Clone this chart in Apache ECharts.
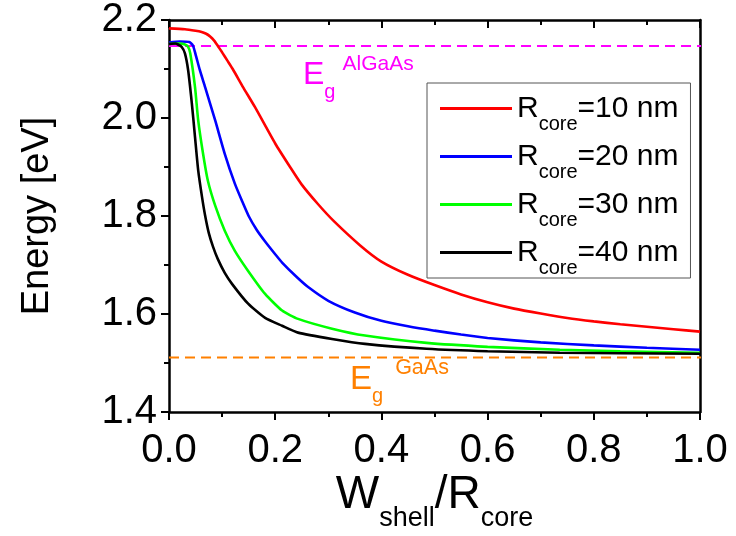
<!DOCTYPE html>
<html>
<head>
<meta charset="utf-8">
<script src="https://cdn.jsdelivr.net/npm/echarts@6/dist/echarts.min.js"></script>
<style>
  html, body { margin: 0; padding: 0; background: #fff; }
  #chart { width: 736px; height: 536px; }
</style>
</head>
<body>
<div id="chart"></div>
<script>
// Shell width relative to core radius, and the ground-state transition energy (eV)
const wR10 = [0, 0.03, 0.05, 0.06, 0.07, 0.078, 0.085, 0.092, 0.1, 0.11, 0.12, 0.14, 0.162, 0.2, 0.228, 0.25, 0.28, 0.31, 0.36, 0.4, 0.45, 0.5, 0.55, 0.6, 0.65, 0.7, 0.75, 0.8, 0.85, 0.9, 0.95, 1.0];
const eR10 = [2.183, 2.181, 2.178, 2.176, 2.172, 2.166, 2.158, 2.147, 2.134, 2.117, 2.100, 2.062, 2.022, 1.948, 1.900, 1.864, 1.825, 1.790, 1.740, 1.707, 1.680, 1.659, 1.640, 1.624, 1.611, 1.601, 1.592, 1.585, 1.579, 1.574, 1.569, 1.564];

const wR20 = [0, 0.02, 0.038, 0.045, 0.05, 0.058, 0.068, 0.087, 0.105, 0.124, 0.137, 0.15, 0.165, 0.181, 0.2, 0.213, 0.24, 0.262, 0.3, 0.35, 0.4, 0.45, 0.5, 0.55, 0.6, 0.7, 0.8, 0.9, 1.0];
const eR20 = [2.154, 2.156, 2.155, 2.148, 2.130, 2.098, 2.063, 1.995, 1.927, 1.866, 1.832, 1.800, 1.772, 1.748, 1.722, 1.705, 1.676, 1.655, 1.627, 1.603, 1.586, 1.575, 1.566, 1.558, 1.551, 1.542, 1.536, 1.531, 1.527];

const wR30 = [0, 0.02, 0.03, 0.036, 0.040, 0.049, 0.055, 0.064, 0.073, 0.087, 0.105, 0.124, 0.149, 0.181, 0.213, 0.243, 0.307, 0.369, 0.485, 0.6, 0.736, 0.85, 1.0];
const eR30 = [2.151, 2.152, 2.150, 2.145, 2.132, 2.063, 1.995, 1.928, 1.873, 1.821, 1.770, 1.729, 1.688, 1.641, 1.607, 1.590, 1.570, 1.556, 1.541, 1.533, 1.527, 1.524, 1.521];

const wR40 = [0, 0.012, 0.017, 0.024, 0.030, 0.036, 0.043, 0.049, 0.055, 0.062, 0.068, 0.075, 0.083, 0.092, 0.105, 0.119, 0.149, 0.181, 0.213, 0.243, 0.307, 0.369, 0.485, 0.6, 0.736, 0.85, 1.0];
const eR40 = [2.151, 2.152, 2.150, 2.145, 2.132, 2.098, 2.030, 1.961, 1.893, 1.840, 1.801, 1.765, 1.737, 1.712, 1.684, 1.661, 1.621, 1.592, 1.576, 1.562, 1.549, 1.539, 1.529, 1.524, 1.521, 1.520, 1.519];

// Band gaps of the shell and core materials (eV)
const gapAlGaAs = 2.147;
const gapGaAs = 1.511;
const gapLineSpan = [0, 1.022];

const coreRadii = ['10', '20', '30', '40'];
const seriesColors = ['#ff0000', '#0000ff', '#00ff00', '#000000'];
const xTicks = { min: 0, max: 1, step: 0.2 };
const yTicks = { min: 1.4, max: 2.2, step: 0.2 };

const FONT = 'Liberation Sans, Arial, sans-serif';

function pairs(xs, ys) { return xs.map((x, i) => [x, ys[i]]); }

const curves = [[wR10, eR10], [wR20, eR20], [wR30, eR30], [wR40, eR40]];
const names = coreRadii.map(r => 'R' + r);

const chart = echarts.init(document.getElementById('chart'), null, { renderer: 'canvas' });

const curveSeries = curves.map((c, i) => ({
  name: names[i],
  type: 'line',
  data: pairs(c[0], c[1]),
  showSymbol: false,
  symbol: 'none',
  smooth: 0.2,
  lineStyle: { color: seriesColors[i], width: 2.6 },
  itemStyle: { color: seriesColors[i] },
  z: 3 + i
}));

const gapSeries = [
  { value: gapAlGaAs, color: '#ff00ff' },
  { value: gapGaAs, color: '#ff8000' }
].map(g => ({
  type: 'line',
  data: gapLineSpan.map(x => [x, g.value]),
  symbol: 'none',
  clip: false,
  silent: true,
  lineStyle: { color: g.color, width: 2, type: [10, 6] },
  z: 2
}));

const axisBlack = { color: '#000', width: 2.5 };
const tickBlack = { color: '#000', width: 2 };

chart.setOption({
  animation: false,
  backgroundColor: '#fff',
  grid: { left: 169, right: 36, top: 20, bottom: 124, containLabel: false, outerBoundsMode: 'none' },
  legend: {
    data: names,
    orient: 'vertical',
    left: 427,
    top: 83,
    icon: 'rect',
    itemWidth: 72,
    itemHeight: 3,
    itemGap: -3,
    padding: [0, 12, 0, 13],
    borderColor: '#555',
    borderWidth: 1,
    formatter: n => '{m|R}{s|core}{m|=' + n.slice(1) + ' nm}',
    textStyle: {
      color: '#000',
      fontFamily: FONT,
      rich: {
        m: { fontSize: 30, fontFamily: FONT, color: '#000' },
        s: { fontSize: 20, fontFamily: FONT, color: '#000', lineHeight: 20, padding: [31, 0, 0, 0] }
      }
    }
  },
  xAxis: [
    {
      type: 'value', position: 'bottom',
      min: xTicks.min, max: xTicks.max, interval: xTicks.step,
      name: '{w|W}{s|shell}{w|/R}{s|core}',
      nameLocation: 'middle', nameGap: 60, nameMoveOverlap: false,
      nameTextStyle: {
        rich: {
          w: { fontSize: 46, fontFamily: FONT, color: '#000' },
          s: { fontSize: 27, fontFamily: FONT, color: '#000', lineHeight: 27, padding: [48, 0, 0, 0] }
        }
      },
      axisLine: { show: true, onZero: false, lineStyle: axisBlack },
      axisTick: { show: true, inside: false, length: 8, lineStyle: tickBlack },
      minorTick: { show: true, splitNumber: 2, length: 5, lineStyle: tickBlack },
      axisLabel: { color: '#000', fontSize: 40, fontFamily: FONT, margin: 19, formatter: v => v.toFixed(1) },
      splitLine: { show: false }
    },
    {
      type: 'value', position: 'top',
      min: xTicks.min, max: xTicks.max, interval: xTicks.step,
      axisLine: { show: true, onZero: false, lineStyle: axisBlack },
      axisTick: { show: true, inside: true, length: 8, lineStyle: tickBlack },
      minorTick: { show: true, splitNumber: 2, length: 5, lineStyle: tickBlack },
      axisLabel: { show: false },
      splitLine: { show: false }
    }
  ],
  yAxis: [
    {
      type: 'value', position: 'left',
      min: yTicks.min, max: yTicks.max, interval: yTicks.step,
      name: 'Energy [eV]',
      nameLocation: 'middle', nameGap: 112, nameMoveOverlap: false,
      nameTextStyle: { fontSize: 38, fontFamily: FONT, color: '#000' },
      axisLine: { show: true, onZero: false, lineStyle: axisBlack },
      axisTick: { show: true, inside: false, length: 8, lineStyle: tickBlack },
      minorTick: { show: true, splitNumber: 2, length: 5, lineStyle: tickBlack },
      axisLabel: { color: '#000', fontSize: 40, fontFamily: FONT, margin: 12, formatter: v => v.toFixed(1) },
      splitLine: { show: false }
    },
    {
      type: 'value', position: 'right',
      min: yTicks.min, max: yTicks.max, interval: yTicks.step,
      axisLine: { show: true, onZero: false, lineStyle: axisBlack },
      axisTick: { show: false },
      axisLabel: { show: false },
      splitLine: { show: false }
    }
  ],
  series: curveSeries.concat(gapSeries),
  graphic: [
    {
      type: 'text', left: 303, top: 49, silent: true,
      style: {
        text: '{e|E}{g|g}{a|AlGaAs}',
        fill: '#ff00ff',
        rich: {
          e: { fontSize: 32, fontFamily: FONT, fill: '#ff00ff' },
          g: { fontSize: 20, fontFamily: FONT, fill: '#ff00ff', lineHeight: 20, padding: [33, 0, 0, 0] },
          a: { fontSize: 21, fontFamily: FONT, fill: '#ff00ff', lineHeight: 21, padding: [0, 0, 22, 7] }
        }
      }
    },
    {
      type: 'text', left: 350, top: 353, silent: true,
      style: {
        text: '{e|E}{g|g}{a|GaAs}',
        fill: '#ff8000',
        rich: {
          e: { fontSize: 33, fontFamily: FONT, fill: '#ff8000' },
          g: { fontSize: 20, fontFamily: FONT, fill: '#ff8000', lineHeight: 20, padding: [33, 0, 0, 0] },
          a: { fontSize: 21.5, fontFamily: FONT, fill: '#ff8000', lineHeight: 21, padding: [0, 0, 22, 12] }
        }
      }
    }
  ]
});
</script>
</body>
</html>
